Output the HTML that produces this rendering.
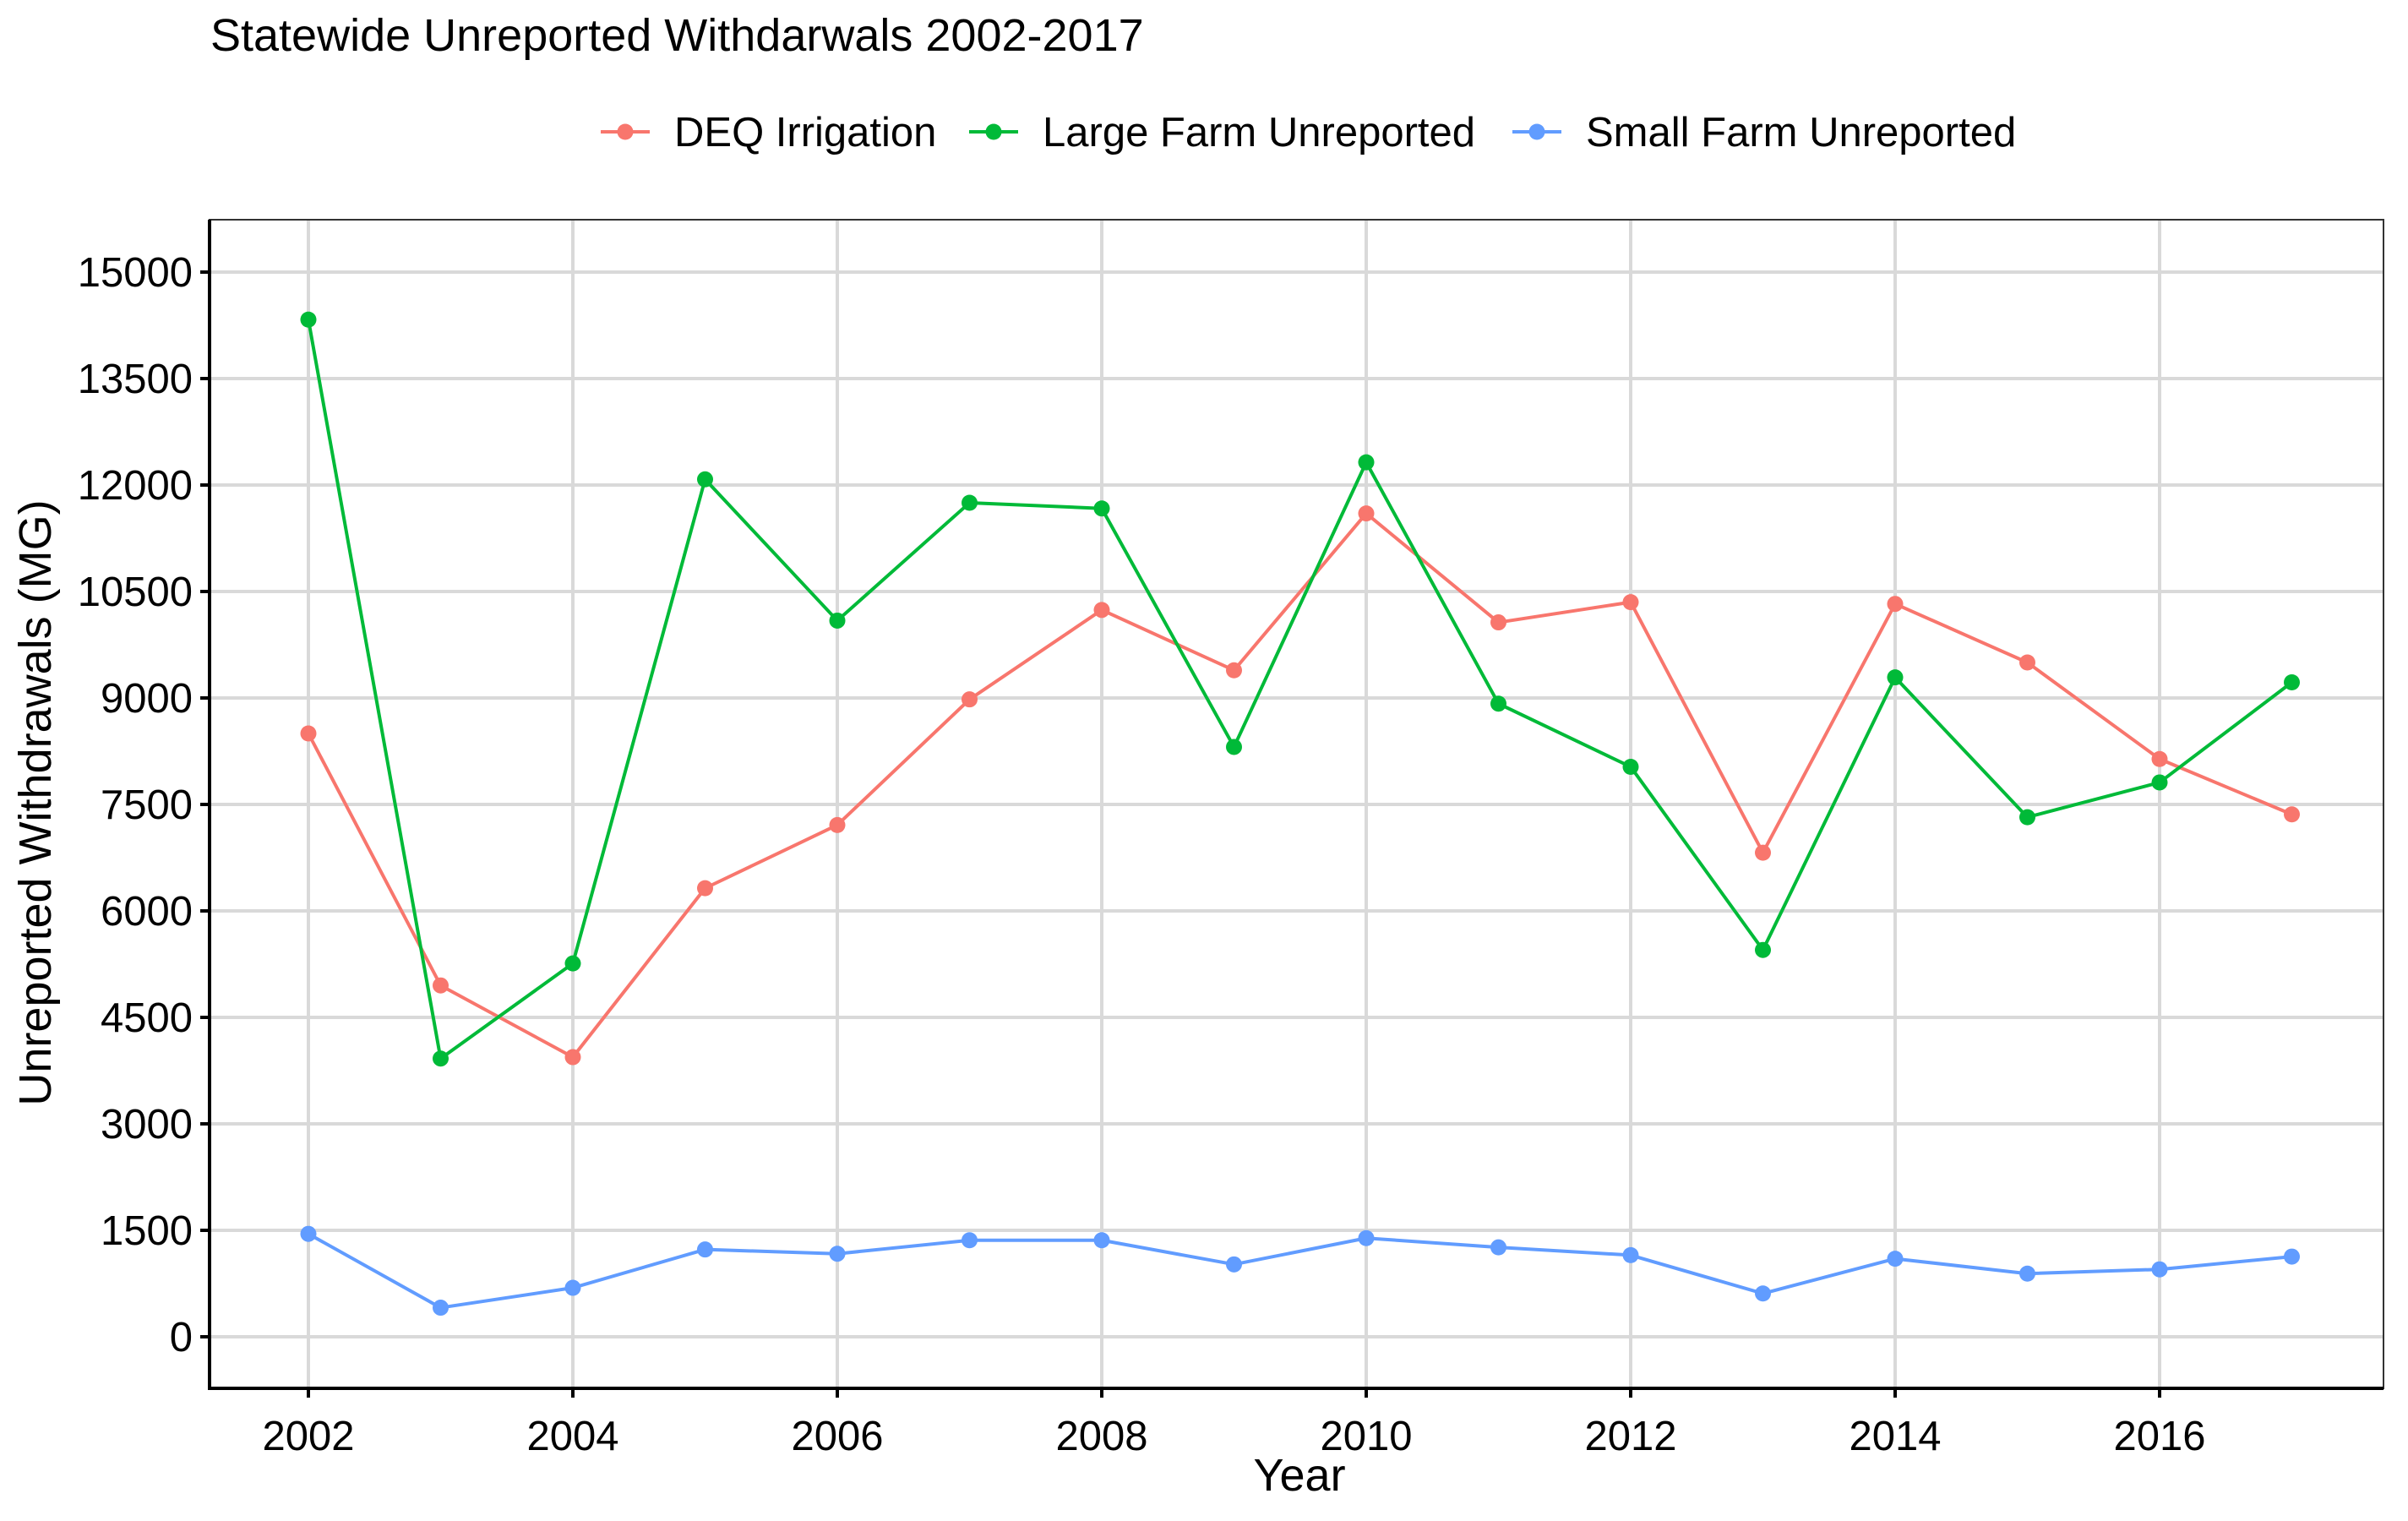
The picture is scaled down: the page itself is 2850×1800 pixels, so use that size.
<!DOCTYPE html>
<html><head><meta charset="utf-8"><style>
html,body{margin:0;padding:0;background:#fff;}
svg{display:block;font-family:"Liberation Sans",Arial,sans-serif;}
</style></head><body>
<svg id="chart" width="2850" height="1800" viewBox="0 0 2850 1800">
<text x="249" y="60" font-size="54" fill="#000">Statewide Unreported Withdarwals 2002-2017</text>
<g id="legend"></g>
<g id="grid"></g>
<g id="series"></g>
<g id="axes"></g>
<text x="1538" y="1764" font-size="54" text-anchor="middle">Year</text>
<text transform="translate(60,950) rotate(-90)" font-size="54" text-anchor="middle">Unreported Withdrawals (MG)</text>
</svg>
<script>
const years = [2002,2003,2004,2005,2006,2007,2008,2009,2010,2011,2012,2013,2014,2015,2016,2017];
const deqIrrigation = [8500,4950,3940,6320,7210,8980,10240,9390,11600,10065,10350,6820,10325,9500,8140,7360];
const largeFarm = [14330,3920,5260,12080,10090,11750,11670,8310,12320,8920,8030,5450,9290,7320,7810,9220];
const smallFarm = [1450,410,690,1230,1170,1360,1360,1020,1390,1260,1150,610,1100,890,950,1130];
const seriesNames = ["DEQ Irrigation","Large Farm Unreported","Small Farm Unreported"];
const seriesColors = ["#F8766D","#00BA38","#619CFF"];
const yTicks = [0,1500,3000,4500,6000,7500,9000,10500,12000,13500,15000];
const xTicks = [2002,2004,2006,2008,2010,2012,2014,2016];

const L=248,R=2821,T=260,B=1643;
function xs(v){return 365+(v-2002)*156.5;}
function ys(v){return 1582-v*(1582-322)/15000;}
const NS="http://www.w3.org/2000/svg";
function mk(tag,attrs,parent){const e=document.createElementNS(NS,tag);for(const k in attrs)e.setAttribute(k,attrs[k]);parent.appendChild(e);return e;}

const grid=document.getElementById('grid');
yTicks.forEach(v=>{const l=mk('line',{x1:L,x2:R,y1:ys(v),y2:ys(v),stroke:'#d9d9d9','stroke-width':4},grid);

});
xTicks.forEach(v=>{const l=mk('line',{x1:xs(v),x2:xs(v),y1:T,y2:B,stroke:'#d9d9d9','stroke-width':4},grid);

});

const ser=document.getElementById('series');
[deqIrrigation,largeFarm,smallFarm].forEach((arr,i)=>{
 const pts=arr.map((v,j)=>xs(years[j])+','+ys(v)).join(' ');
 const pl=mk('polyline',{points:pts,fill:'none',stroke:seriesColors[i],'stroke-width':4,'stroke-linejoin':'round'},ser);
 
 
 arr.forEach((v,j)=>{const c=mk('circle',{cx:xs(years[j]),cy:ys(v),r:9.5,fill:seriesColors[i]},ser);
 
 });
});

const ax=document.getElementById('axes');
const box=mk('rect',{x:L,y:T,width:R-L,height:B-T,fill:'none',stroke:'#333','stroke-width':2},ax);


const ya=mk('line',{x1:L,x2:L,y1:T,y2:B+2,stroke:'#000','stroke-width':4},ax);


const xa=mk('line',{x1:L-2,x2:R,y1:B,y2:B,stroke:'#000','stroke-width':4},ax);


yTicks.forEach(v=>{mk('line',{x1:L-11,x2:L,y1:ys(v),y2:ys(v),stroke:'#000','stroke-width':4},ax);
 const t=mk('text',{x:L-20,y:ys(v)+17,'font-size':49,'text-anchor':'end',fill:'#000'},ax);t.textContent=v;
 
 });
xTicks.forEach(v=>{mk('line',{x1:xs(v),x2:xs(v),y1:B,y2:B+11,stroke:'#000','stroke-width':4},ax);
 const t=mk('text',{x:xs(v),y:1716,'font-size':49,'text-anchor':'middle',fill:'#000'},ax);t.textContent=v;
 
 });

const lg=document.getElementById('legend');
const lx=[711,1147,1790];
seriesNames.forEach((n,i)=>{
 const g=mk('g',{},lg);
 
 
 mk('line',{x1:lx[i],x2:lx[i]+58,y1:156,y2:156,stroke:seriesColors[i],'stroke-width':4},g);
 mk('circle',{cx:lx[i]+29,cy:156,r:9.5,fill:seriesColors[i]},g);
 const t=mk('text',{x:lx[i]+87,y:173,'font-size':49,fill:'#000'},g);t.textContent=n;
});
</script>
</body></html>
